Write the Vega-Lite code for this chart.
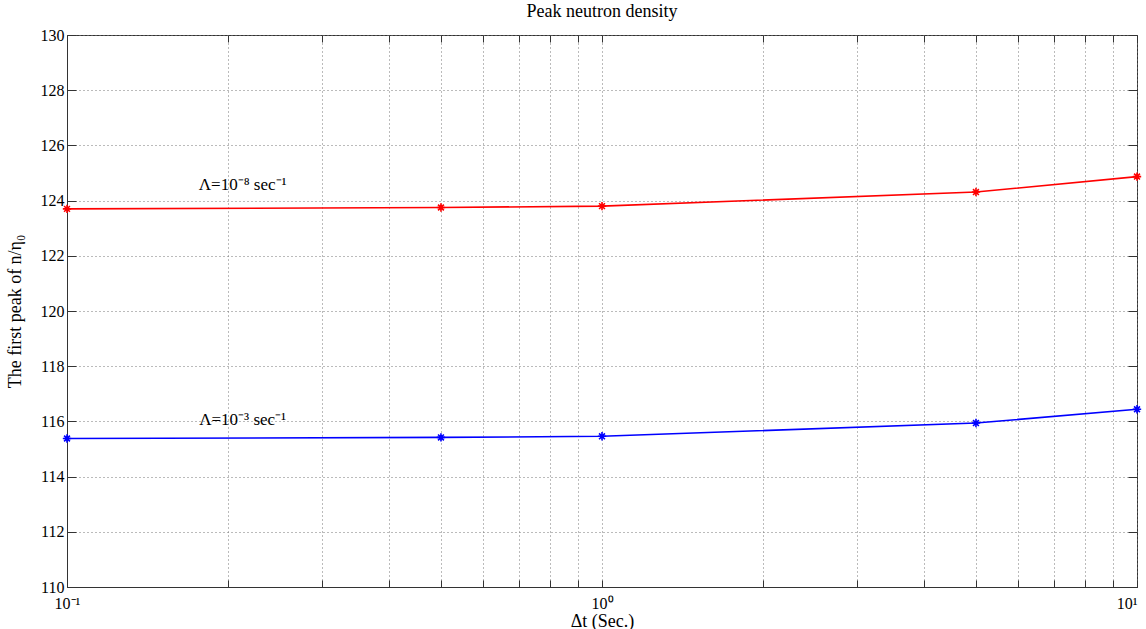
{
  "$schema": "https://vega.github.io/schema/vega-lite/v6.json",
  "autosize": "none",
  "width": 1070,
  "height": 552,
  "padding": {"left": 67, "top": 35, "right": 9, "bottom": 42},
  "background": "white",
  "config": {
    "font": "Liberation Serif",
    "view": {"stroke": "#333", "strokeWidth": 1},
    "axis": {
      "labelFont": "Liberation Serif",
      "titleFont": "Liberation Serif",
      "labelFontSize": 16,
      "titleFontSize": 18,
      "labelColor": "#000",
      "titleColor": "#000",
      "titleFontWeight": "normal",
      "domainColor": "#333",
      "tickColor": "#333",
      "gridColor": "#777",
      "gridDash": [1, 3],
      "gridOpacity": 1,
      "gridWidth": 1
    }
  },
  "title": {
    "text": "Peak neutron density",
    "font": "Liberation Serif",
    "fontSize": 18,
    "fontWeight": "normal",
    "color": "#000",
    "offset": 6
  },
  "data": {
    "values": [
      {"dt": 0.1, "peak": 123.70, "series": "L8"},
      {"dt": 0.5, "peak": 123.75, "series": "L8"},
      {"dt": 1, "peak": 123.80, "series": "L8"},
      {"dt": 5, "peak": 124.31, "series": "L8"},
      {"dt": 10, "peak": 124.87, "series": "L8"},
      {"dt": 0.1, "peak": 115.38, "series": "L3"},
      {"dt": 0.5, "peak": 115.42, "series": "L3"},
      {"dt": 1, "peak": 115.46, "series": "L3"},
      {"dt": 5, "peak": 115.94, "series": "L3"},
      {"dt": 10, "peak": 116.44, "series": "L3"}
    ]
  },
  "resolve": {"axis": {"x": "independent", "y": "independent"}},
  "layer": [
    {
      "mark": {"type": "line", "strokeWidth": 1.6, "clip": false},
      "encoding": {
        "x": {
          "field": "dt", "type": "quantitative",
          "scale": {"type": "log", "domain": [0.1, 10], "nice": false},
          "axis": {
            "title": "Δt (Sec.)",
            "values": [0.1, 0.2, 0.3, 0.4, 0.5, 0.6, 0.7, 0.8, 0.9, 1, 2, 3, 4, 5, 6, 7, 8, 9, 10],
            "labelExpr": "datum.value == 0.1 ? '10⁻¹' : datum.value == 1 ? '10⁰' : datum.value == 10 ? '10¹' : ''",
            "labelAlign": {"condition": {"test": "datum.value == 10", "value": "right"}, "value": "center"},
            "labelOverlap": false,
            "labelFlush": false,
            "labelBound": false,
            "labelDx": 0,
            "labelPadding": 15,
            "tickSize": -7,
            "titlePadding": 1,
            "grid": true
          }
        },
        "y": {
          "field": "peak", "type": "quantitative",
          "scale": {"domain": [110, 130], "nice": false, "zero": false},
          "axis": {
            "title": "The first peak of n/η₀",
            "values": [110, 112, 114, 116, 118, 120, 122, 124, 126, 128, 130],
            "labelPadding": 12,
            "tickSize": -9,
            "titlePadding": 16,
            "grid": true
          }
        },
        "color": {
          "field": "series", "type": "nominal",
          "scale": {"domain": ["L8", "L3"], "range": ["#ff0000", "#0000ff"]},
          "legend": null
        }
      }
    },
    {
      "mark": {
        "type": "point",
        "shape": "M-1,0L1,0M0,-1L0,1M-0.7,-0.7L0.7,0.7M-0.7,0.7L0.7,-0.7",
        "filled": false,
        "size": 70,
        "strokeWidth": 1.6,
        "opacity": 1,
        "clip": false
      },
      "encoding": {
        "x": {"field": "dt", "type": "quantitative", "axis": null},
        "y": {"field": "peak", "type": "quantitative", "axis": null},
        "color": {"field": "series", "type": "nominal", "legend": null}
      }
    },
    {
      "data": {
        "values": [
          {"dt": 0.213, "peak": 124.57, "label": "Λ=10⁻⁸ sec⁻¹"},
          {"dt": 0.213, "peak": 116.04, "label": "Λ=10⁻³ sec⁻¹"}
        ]
      },
      "mark": {"type": "text", "font": "Liberation Serif", "fontSize": 17, "color": "#000", "align": "center", "baseline": "middle"},
      "encoding": {
        "x": {"field": "dt", "type": "quantitative", "axis": null},
        "y": {"field": "peak", "type": "quantitative", "axis": null},
        "text": {"field": "label"}
      }
    },
    {
      "mark": {"type": "point", "opacity": 0},
      "encoding": {
        "x": {
          "field": "dt", "type": "quantitative",
          "axis": {
            "orient": "top",
            "title": null,
            "labels": false,
            "grid": false,
            "domain": false,
            "values": [0.1, 0.2, 0.3, 0.4, 0.5, 0.6, 0.7, 0.8, 0.9, 1, 2, 3, 4, 5, 6, 7, 8, 9, 10],
            "tickSize": -7
          }
        },
        "y": {
          "field": "peak", "type": "quantitative",
          "axis": {
            "orient": "right",
            "title": null,
            "labels": false,
            "grid": false,
            "domain": false,
            "values": [110, 112, 114, 116, 118, 120, 122, 124, 126, 128, 130],
            "tickSize": -9
          }
        }
      }
    }
  ]
}
